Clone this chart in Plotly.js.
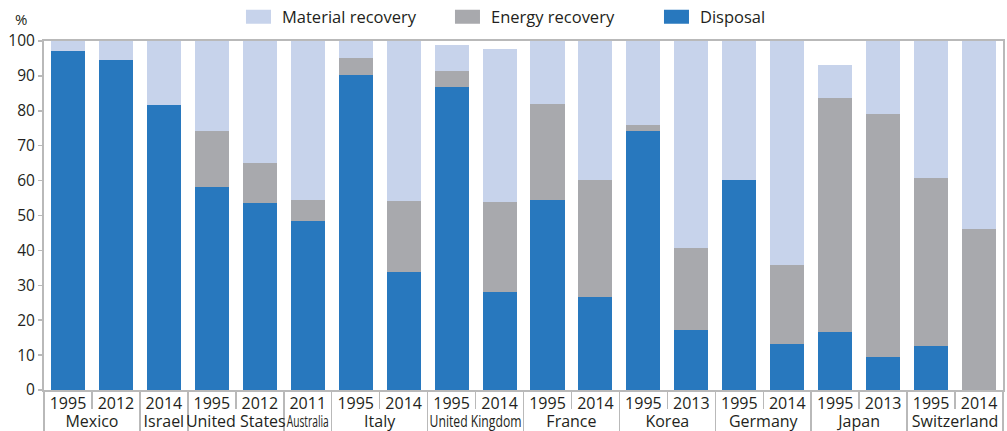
<!DOCTYPE html>
<html>
<head>
<meta charset="utf-8">
<script src="https://cdn.plot.ly/plotly-3.0.1.min.js"></script>
<style>
html,body{margin:0;padding:0;background:#fff;}
#chart{width:1007px;height:431px;}
</style>
</head>
<body>
<div id="chart"></div>
<script>
// Data (percent of municipal waste)
const countries = ["Mexico","Mexico","Israel","United States","United States","Australia","Italy","Italy","United Kingdom","United Kingdom","France","France","Korea","Korea","Germany","Germany","Japan","Japan","Switzerland","Switzerland"];
const years = ["1995","2012","2014","1995","2012","2011","1995","2014","1995","2014","1995","2014","1995","2013","1995","2014","1995","2013","1995","2014"];
const disposal = [97.1,94.6,81.7,58.2,53.6,48.4,90.3,33.8,86.8,28.1,54.4,26.6,74.2,17.2,60.2,13.2,16.6,9.5,12.6,0];
const energyRecovery = [0,0,0,16.0,11.4,6.0,4.8,20.4,4.6,25.8,27.5,33.6,1.7,23.5,0,22.6,67.1,69.6,48.1,46.1];
const materialRecovery = [2.9,5.4,18.3,25.8,35.0,45.6,4.9,45.8,7.5,43.8,18.1,39.8,24.1,59.3,39.8,64.2,9.4,20.9,39.3,53.9];
const yTicks = [0,10,20,30,40,50,60,70,80,90,100];

const FONT = "Open Sans, Noto Sans, sans-serif";
const TXT = "#231f20";
const GREY = "#b9b9b9";
const x = [countries, years];

const traces = [
  {type:"bar", name:"Disposal", x:x, y:disposal, marker:{color:"#2878be"}, hoverinfo:"skip"},
  {type:"bar", name:"Energy recovery", x:x, y:energyRecovery, marker:{color:"#a8a9ad"}, hoverinfo:"skip"},
  {type:"bar", name:"Material recovery", x:x, y:materialRecovery, marker:{color:"#c7d3eb"}, hoverinfo:"skip"}
];

const layout = {
  width:1007, height:431,
  margin:{l:44, r:4, t:41, b:41, pad:0, autoexpand:false},
  paper_bgcolor:"#fff", plot_bgcolor:"#fff",
  barmode:"stack", bargap:0.29,
  font:{family:FONT, color:TXT, size:16},
  showlegend:true,
  legend:{orientation:"h", traceorder:"reversed", xref:"container", yref:"container",
          x:0.2403, xanchor:"left", y:0.9606, yanchor:"middle",
          font:{family:FONT, size:16.5, color:TXT}, entrywidth:164, entrywidthmode:"pixels", bgcolor:"rgba(0,0,0,0)"},
  xaxis:{type:"multicategory", showline:true, linecolor:GREY, linewidth:2, mirror:true,
         ticks:"outside", tickson:"boundaries", ticklen:17, tickcolor:GREY, tickwidth:1.5, tickangle:0,
         dividercolor:GREY, dividerwidth:1.5, showgrid:false, zeroline:false, automargin:false,
         tickfont:{family:FONT, size:16, color:TXT}, showdividers:true, fixedrange:true},
  yaxis:{range:[0,100], tickvals:yTicks, ticktext:yTicks.map(String), showline:true, linecolor:GREY, linewidth:2,
         mirror:true, ticks:"outside", ticklen:4, tickcolor:GREY, tickwidth:1.5, automargin:false,
         showgrid:false, zeroline:false, tickfont:{family:FONT, size:15.5, color:TXT}, fixedrange:true},
  annotations:[{text:"%", xref:"paper", yref:"paper", x:-0.024, y:1.063, showarrow:false,
                font:{family:FONT, size:15, color:TXT}, xanchor:"center", yanchor:"middle"}]
};

function placeLabels(selector, targetY, root){
  document.querySelectorAll(selector).forEach(function(t){
    let tr = (t.getAttribute("transform") || "").replace(/rotate\([^)]*\)/g, "").trim();
    t.setAttribute("transform", tr);
    const s = t.textContent;
    if (s === "Australia") { t.setAttribute("textLength", "42"); t.setAttribute("lengthAdjust","spacingAndGlyphs"); }
    if (s === "United Kingdom") { t.setAttribute("textLength", "92"); t.setAttribute("lengthAdjust","spacingAndGlyphs"); }
    const r = t.getBoundingClientRect();
    const cy = (r.top + r.bottom) / 2 - root.top;
    const dy = targetY - cy;
    t.setAttribute("transform", "translate(0," + dy.toFixed(2) + ") " + tr);
  });
}

Plotly.newPlot("chart", traces, layout, {displayModeBar:false, staticPlot:true}).then(function(){
  const root = document.getElementById("chart").getBoundingClientRect();
  placeLabels("#chart .xtick text", 403, root);
  placeLabels("#chart .xtick2 text", 421, root);
  // wider legend swatches
  document.querySelectorAll("#chart .legendpoints path").forEach(function(p){
    p.setAttribute("d","M-16,7H9V-7H-16Z");
  });
});
</script>
</body>
</html>
